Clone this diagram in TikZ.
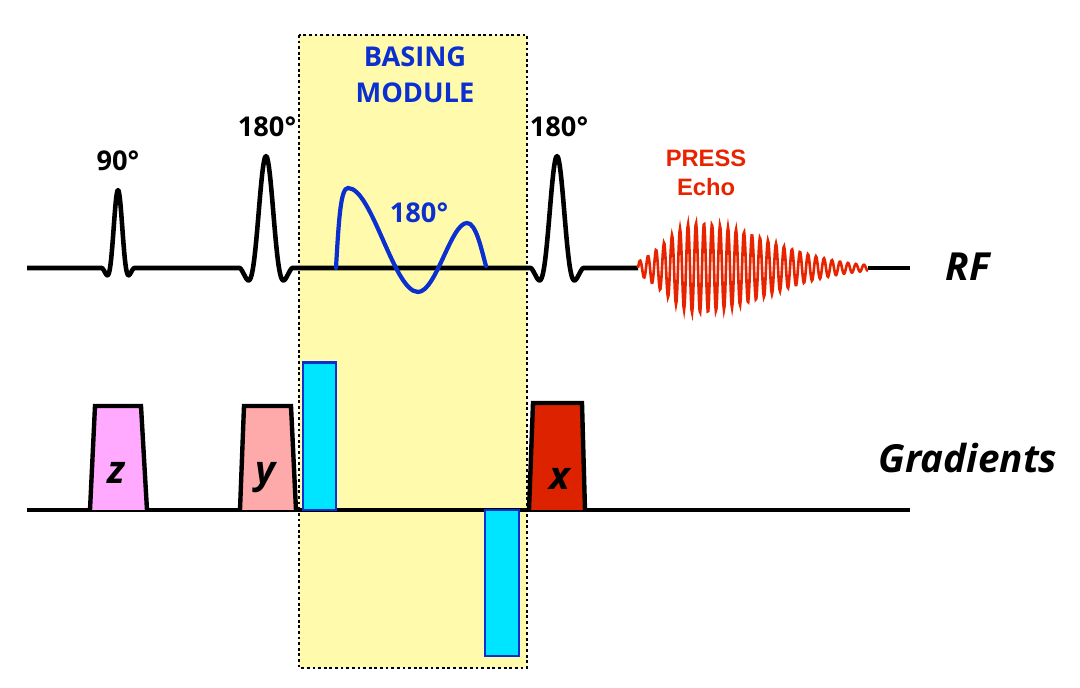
\documentclass[tikz,border=0pt]{standalone}
\usepackage{fontspec}
\setmainfont{Open Sans}
\newfontfamily\echofont{Liberation Sans}
\usetikzlibrary{calc,positioning}
\definecolor{modyellow}{RGB}{255,250,172}
\definecolor{modblue}{RGB}{12,48,208}
\definecolor{barcyan}{RGB}{0,229,255}
\definecolor{echored}{RGB}{232,36,0}
\definecolor{zpink}{RGB}{255,170,255}
\definecolor{ysalmon}{RGB}{255,170,170}
\definecolor{xred}{RGB}{221,34,0}

\begin{document}
\begin{tikzpicture}[x=0.02cm, y=-0.02cm,
		seq/.style={line width=2.6pt, line join=round},
		modbox/.style={fill=modyellow, draw=black, line width=0.8pt, dash pattern=on 1.6pt off 1.6pt},
		lobe/.style={draw=black, line width=2.5pt, line join=miter},
		bar/.style={fill=barcyan, draw=modblue, line width=1.7pt},
		deg/.style={font=\fontsize{15.5}{18}\selectfont\bfseries},
		chan/.style={font=\fontsize{22}{26}\selectfont\bfseries\itshape},
		declare function={sincw(\u,\a,\b)=sin(180*(\u)/\a)/(pi*(\u)/\a)*exp(-((\u)*(\u))/(\b*\b));}]

		\useasboundingbox (0,0) rectangle (1080,688);

		\coordinate (RF0) at (27,268);
		\coordinate (RF1) at (910,268);
		\coordinate (G0) at (27,510);
		\coordinate (G1) at (910,510);

		\draw[modbox] (299,35) coordinate (M1) rectangle (527,668) coordinate (M2);

		\draw[seq] (RF0) -- (102,268)
			-- plot[domain=-16:16, samples=64] ({118+\x}, {268-78*sincw(\x,8,12)})
			-- (240,268)
			-- plot[domain=-26:26, samples=64] ({266+\x}, {268-112*sincw(\x,13,22)})
			-- (531,268)
			-- plot[domain=-26:26, samples=64] ({557+\x}, {268-112*sincw(\x,13,22)})
			-- (638,268) coordinate (E0);
		\draw[seq] (868,268) coordinate (E1) -- (RF1);

		\draw[line width=1.5pt, echored]
			plot[domain=638:695, samples=100] (\x, {268-45*exp(-((\x-695)/41)*((\x-695)/41))*sin(45*(\x-638))})
			-- plot[domain=695:868, samples=300] (\x, {268-45*exp(-((\x-695)/104)*((\x-695)/104))*sin(45*(\x-638))});

		\draw[line width=2.4pt, modblue, line cap=round] (336,268) .. controls (339,215) and (341,188) .. (348,188)
			.. controls (372,188) and (394,292) .. (418,292)
			.. controls (436,292) and (451,223) .. (467,223)
			.. controls (476,223) and (481,248) .. (486,266);

		\draw[seq] (G0) -- (G1);

		\draw[lobe, fill=zpink] (90,510) -- (95,406) -- (141,406) -- (147,510);
		\draw[lobe, fill=ysalmon] (240,510) -- (244,406) -- (291,406) -- (296,510);
		\draw[lobe, fill=xred] (529,510) -- (533,403) -- (582,403) -- (585,510);

		\draw[bar] (303,363) rectangle (336,510);
		\draw[bar] (485,510) rectangle (519,656);

		\node[deg] (L90) at (118,161) {90°};
		\node[deg] (L180a) at (267,127) {180°};
		\node[deg] (L180b) at (559,127) {180°};
		\node[deg, modblue] (L180c) at (419,213) {180°};
		\node[deg, modblue, align=center, font=\fontsize{15.5}{20.4}\selectfont\bfseries] (Lmod) at (415,75) {BASING\\MODULE};
		\node[echored, align=center, font=\echofont\fontsize{13.5}{16.4}\selectfont\bfseries] (Lecho) at (706,173) {PRESS\\Echo};

		\node[chan] (Lrf) at (968,267) {RF};
		\node[chan] (Lgrad) at (968,458) {Gradients};

		\node[chan, anchor=base] (Lz) at (116,484) {z};
		\node[chan, anchor=base] (Ly) at (266,484) {y};
		\node[chan, anchor=base] (Lx) at (560,490) {x};

	\end{tikzpicture}
\end{document}
